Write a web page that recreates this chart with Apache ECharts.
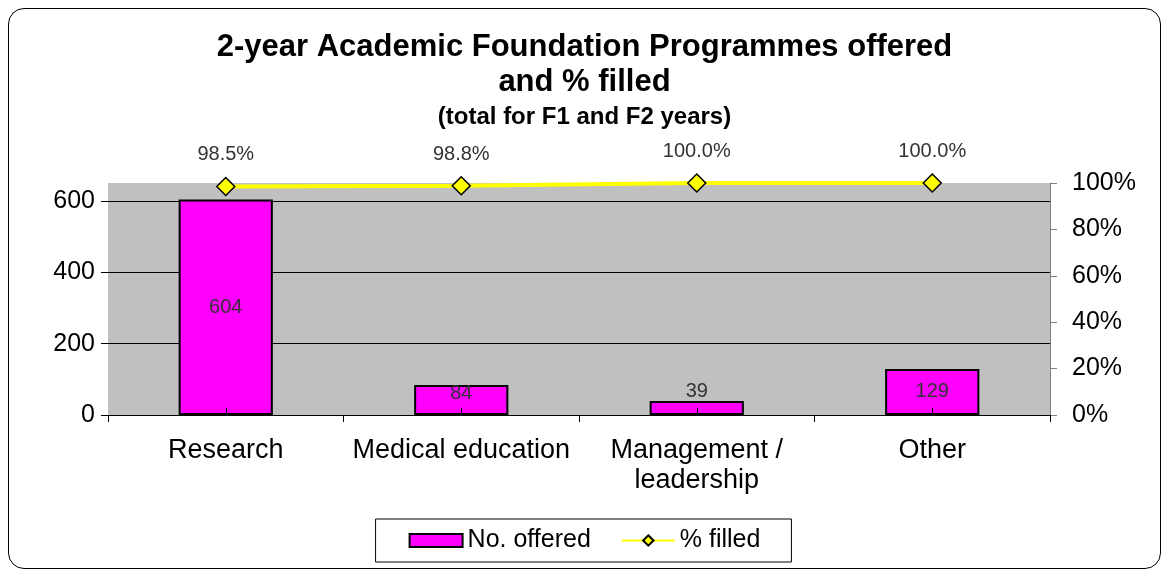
<!DOCTYPE html>
<html>
<head>
<meta charset="utf-8">
<script src="https://cdn.jsdelivr.net/npm/echarts@6/dist/echarts.min.js"></script>
<style>
  html, body { margin: 0; padding: 0; background: #fff; }
  #frame {
    position: absolute; left: 8px; top: 8px; width: 1153px; height: 561px;
    border: 1.5px solid #000; border-radius: 16px; box-sizing: border-box;
  }
  #chart { width: 1169px; height: 577px; position: absolute; left: 0; top: 0; }
</style>
</head>
<body>
<div id="frame"></div>
<div id="chart"></div>
<script>
  const categories = ["Research", "Medical education", "Management /\nleadership", "Other"];
  const offered = [604, 84, 39, 129];
  const filledPct = [98.5, 98.8, 100.0, 100.0];

  const myChart = echarts.init(document.getElementById("chart"));
  const font = "Liberation Sans, Arial, sans-serif";

  const barData = offered.map((v) => {
    // small bars in the original put the label at/above the top
    if (v < 50) return { value: v, label: { position: "top", distance: 0 } };
    if (v < 100) return { value: v, label: { position: "insideTop", distance: -2 } };
    return v;
  });

  const option = {
    animation: false,
    textStyle: { fontFamily: font },
    title: [
      {
        text: "2-year Academic Foundation Programmes offered\nand % filled",
        left: "center",
        top: 25,
        textStyle: { fontSize: 31, fontWeight: "bold", color: "#000", lineHeight: 35, fontFamily: font },
      },
      {
        text: "(total for F1 and F2 years)",
        left: "center",
        top: 98,
        textStyle: { fontSize: 24, fontWeight: "bold", color: "#000", lineHeight: 28, fontFamily: font },
      },
    ],
    legend: {
      bottom: 15,
      left: "center",
      itemGap: 30,
      padding: [9, 31, 9, 33],
      borderColor: "#000",
      borderWidth: 1,
      borderRadius: 0,
      textStyle: { fontSize: 25, color: "#000", fontFamily: font },
      data: [
        { name: "No. offered", icon: "rect", itemStyle: { borderColor: "#000", borderWidth: 2 } },
        { name: "% filled" },
      ],
      itemWidth: 53,
      itemHeight: 13,
    },
    grid: {
      left: 108,
      right: 119,
      top: 183,
      bottom: 162,
      show: true,
      backgroundColor: "#c0c0c0",
      borderWidth: 0,
    },
    xAxis: [
      {
        type: "category",
        data: categories,
        axisLine: { lineStyle: { color: "#000", width: 1 } },
        axisTick: { show: true, interval: 0, length: 7, lineStyle: { color: "#000" } },
        axisLabel: { interval: 0, fontSize: 27, color: "#000", margin: 21, lineHeight: 30, fontFamily: font },
      },
      {
        type: "category",
        data: categories,
        position: "bottom",
        z: 10,
        axisLine: { show: false },
        axisTick: { show: true, interval: 0, inside: true, alignWithLabel: true, length: 7, lineStyle: { color: "#000" } },
        axisLabel: { show: false, interval: 0 },
      },
    ],
    yAxis: [
      {
        type: "value",
        min: 0,
        max: 650,
        interval: 200,
        axisLine: { show: false },
        axisTick: { show: true, length: 7, lineStyle: { color: "#000" } },
        axisLabel: { fontSize: 25, color: "#000", margin: 13, showMaxLabel: false, fontFamily: font },
        splitLine: { show: true, showMaxLine: false, showMinLine: false, lineStyle: { color: "#000", width: 1 } },
      },
      {
        type: "value",
        min: 0,
        max: 100,
        interval: 20,
        position: "right",
        axisLine: { show: true, lineStyle: { color: "#808080" } },
        axisTick: { show: true, length: 7, lineStyle: { color: "#808080" } },
        axisLabel: { fontSize: 25, color: "#000", margin: 22, formatter: "{value}%", fontFamily: font },
        splitLine: { show: false },
      },
    ],
    series: [
      {
        name: "No. offered",
        type: "bar",
        data: barData,
        barWidth: "40%",
        itemStyle: { color: "#ff00ff", borderColor: "#000", borderWidth: 2 },
        label: { show: true, position: "inside", fontSize: 20, color: "#333", fontFamily: font },
      },
      {
        name: "% filled",
        type: "line",
        xAxisIndex: 1,
        yAxisIndex: 1,
        data: filledPct,
        symbol: "diamond",
        symbolSize: 18,
        lineStyle: { color: "#ffff00", width: 4 },
        itemStyle: { color: "#ffff00", borderColor: "#000", borderWidth: 1.5 },
        label: {
          show: true,
          position: "top",
          distance: 12,
          fontSize: 20,
          color: "#333",
          fontFamily: font,
          formatter: (p) => p.value.toFixed(1) + "%",
        },
        z: 5,
      },
    ],
  };

  myChart.setOption(option);
</script>
</body>
</html>
